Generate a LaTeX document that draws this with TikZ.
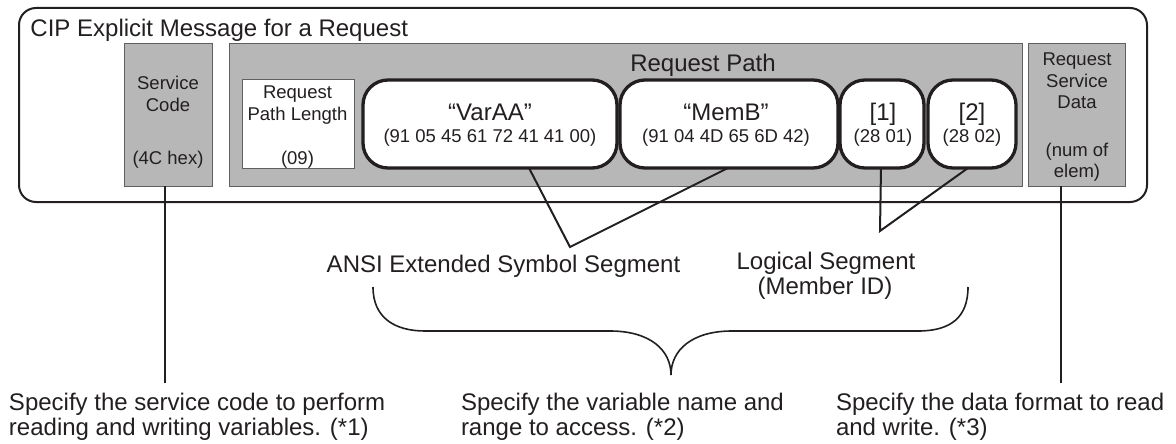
\documentclass[tikz,border=0pt]{standalone}
\usepackage{fontspec}
\setmainfont{Liberation Sans}
\definecolor{ink}{RGB}{35,31,32}
\definecolor{boxgray}{RGB}{183,183,183}
\definecolor{edgegray}{RGB}{95,95,95}
\begin{document}
\begin{tikzpicture}[x=1pt,y=-1pt,
  every node/.style={inner sep=0,outer sep=0},
  outerbox/.style={draw=ink,line width=2,rounded corners=17,minimum width=1128,minimum height=194},
  graybox/.style={draw=edgegray,fill=boxgray,line width=1,minimum height=142},
  whitebox/.style={draw=edgegray,fill=white,line width=1,minimum width=112,minimum height=88},
  segbox/.style={draw=ink,fill=white,line width=3.3,rounded corners=25,minimum height=88},
  big/.style={text=ink,font=\fontsize{24}{28}\selectfont,anchor=base},
  small/.style={text=ink,font=\fontsize{18.5}{22}\selectfont,anchor=base},
  note/.style={text=ink,font=\fontsize{24}{28}\selectfont,anchor=base west},
  link/.style={draw=ink,line width=2},
  bracepath/.style={draw=ink,line width=1.6},
  ]
\useasboundingbox (0,0) rectangle (1176,444);

% outer frame
\node[outerbox] (outer) at (583,105) {};
\node[note] (title) at (30.5,36.5) {CIP Explicit Message for a Request};

% gray fields
\node[graybox,minimum width=88] (sc) at (168,115) {};
\node[graybox,minimum width=793] (rp) at (625.5,115) {};
\node[graybox,minimum width=97] (rsd) at (1076.5,115) {};
\node[whitebox] (rpl) at (298,124) {};

% segments
\node[segbox,minimum width=254] (va) at (490,124) {};
\node[segbox,minimum width=218] (mb) at (729,124) {};
\node[segbox,minimum width=84] (l1) at (882,124) {};
\node[segbox,minimum width=88] (l2) at (972,124) {};

% texts in fields
\node[big] (rpT) at (703,72) {Request Path};
\node[small] (scA) at (168,89) {Service};
\node[small] (scB) at (168,111.5) {Code};
\node[small] (scC) at (168,164.5) {(4C hex)};
\node[small] (rplA) at (297.5,99) {Request};
\node[small] (rplB) at (297.5,121) {Path Length};
\node[small] (rplC) at (297.5,164.5) {(09)};
\node[big] (vaA) at (490,120.5) {“VarAA”};
\node[small] (vaB) at (490,142) {(91 05 45 61 72 41 41 00)};
\node[big] (mbA) at (726,120.5) {“MemB”};
\node[small] (mbB) at (726,142) {(91 04 4D 65 6D 42)};
\node[big] (l1A) at (883,120.5) {[1]};
\node[small] (l1B) at (883,142) {(28 01)};
\node[big] (l2A) at (972,120.5) {[2]};
\node[small] (l2B) at (972,142) {(28 02)};
\node[small] (rsdA) at (1077,66) {Request};
\node[small] (rsdB) at (1077,87.5) {Service};
\node[small] (rsdC) at (1077,109) {Data};
\node[small] (rsdD) at (1077,156) {(num of};
\node[small] (rsdE) at (1077,177.5) {elem)};

% segment group labels
\node[big] (ansi) at (503.5,272.5) {ANSI Extended Symbol Segment};
\node[big] (logA) at (826,269.5) {Logical Segment};
\node[big] (logB) at (825,294.5) {(Member ID)};

% connectors
\coordinate (v1) at (570,247);
\coordinate (v2) at (880,231);
\coordinate (e1) at (165,383);
\coordinate (e3) at (1061,383);
\draw[link] ([xshift=39]va.south) -- (v1) -- ([xshift=-1]mb.south);
\draw[link] ([xshift=-1]l1.south) -- (v2) -- ([xshift=-4]l2.south);
\draw[link] (sc.south -| e1) -- (e1);
\draw[link] (rsd.south -| e3) -- (e3);

% brace
\coordinate (bl) at (373,287);
\coordinate (br) at (968,287);
\coordinate (bt) at (671,375);
\draw[bracepath] (bl) .. controls (373,318) and (395,331) .. (425,331)
  -- (610,331) .. controls (650,331) and (671,350) .. (bt)
  .. controls (671,350) and (692,331) .. (732,331)
  -- (918,331) .. controls (950,331) and (968,318) .. (br);

% notes
\node[note] (n1a) at (9,410.5) {Specify the service code to perform};
\node[note] (n1b) at (9,435.5) {reading and writing variables. (*1)};
\node[note] (n2a) at (461,410.5) {Specify the variable name and};
\node[note] (n2b) at (461,435.5) {range to access. (*2)};
\node[note] (n3a) at (836,410.5) {Specify the data format to read};
\node[note] (n3b) at (836,435.5) {and write. (*3)};
\end{tikzpicture}
\end{document}
